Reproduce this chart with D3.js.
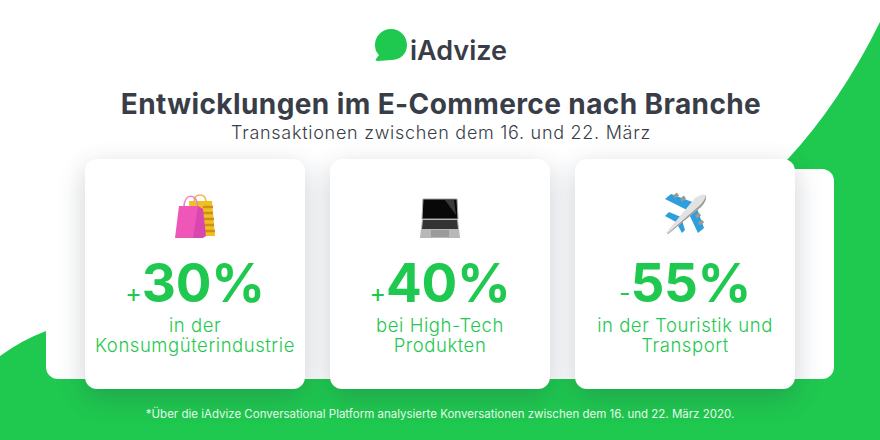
<!DOCTYPE html>
<html>
<head>
<meta charset="utf-8">
<script src="https://cdn.jsdelivr.net/npm/d3@7"></script>
<style>
  html, body { margin: 0; padding: 0; background: #fff; }
  svg { display: block; }
  text { font-family: Inter, Lato, sans-serif; }
</style>
</head>
<body>
<div id="chart"></div>
<script>
// values
const categories = ["Konsumgüter", "High-Tech", "Touristik"];
const signs = ["+", "+", "-"];
const values = [30, 40, 55];
const labelLines = [
    ["in der", "Konsumgüterindustrie"],
    ["bei High-Tech", "Produkten"],
    ["in der Touristik und", "Transport"]
];
const title = "Entwicklungen im E-Commerce nach Branche";
const subtitle = "Transaktionen zwischen dem 16. und 22. März";
const footnote = "*Über die iAdvize Conversational Platform analysierte Konversationen zwischen dem 16. und 22. März 2020.";

const width = 880, height = 440;
const green = "#1fc84f", dark = "#383d47";

const svg = d3.select("#chart")
    .append("svg")
    .attr("width", width)
    .attr("height", height);

const defs = svg.append("defs");
const blur = defs.append("filter")
    .attr("id", "cardShadow")
    .attr("x", "-30%").attr("y", "-30%")
    .attr("width", "160%").attr("height", "160%");
blur.append("feGaussianBlur").attr("stdDeviation", 14);

// green background
svg.append("path")
    .attr("d", "M0,356 Q22,340 46,331 L300,300 L787,160 Q840,103 880,22 L880,440 L0,440 Z")
    .attr("fill", green);

// back panel
svg.append("rect")
    .attr("x", 46).attr("y", 169)
    .attr("width", 788).attr("height", 210)
    .attr("rx", 12)
    .attr("fill", "#fff");

// cards
const x = d3.scaleBand()
    .domain(categories)
    .range([85, 795])
    .paddingInner(25 / 245);

// shadows first so they never fall on a neighbouring card
svg.selectAll("rect.shadow")
    .data(categories)
    .join("rect")
    .attr("class", "shadow")
    .attr("x", d => x(d))
    .attr("y", 168)
    .attr("width", x.bandwidth())
    .attr("height", 230)
    .attr("rx", 12)
    .attr("fill", "#1a2a40")
    .attr("opacity", 0.22)
    .attr("filter", "url(#cardShadow)");

const cards = svg.selectAll("g.card")
    .data(categories)
    .join("g")
    .attr("class", "card")
    .attr("transform", d => `translate(${x(d)},159)`);

cards.append("rect")
    .attr("width", x.bandwidth())
    .attr("height", 230)
    .attr("rx", 12)
    .attr("fill", "#fff");

// big numbers, sign is smaller
const cx = x.bandwidth() / 2;
const big = cards.append("text")
    .attr("x", cx)
    .attr("y", 143)
    .attr("text-anchor", "middle")
    .attr("fill", green)
    .attr("font-weight", 700);
big.append("tspan")
    .attr("font-size", 25)
    .attr("font-weight", 400)
    .text((d, i) => signs[i]);
big.append("tspan")
    .attr("font-size", 53)
    .attr("letter-spacing", -0.3)
    .text((d, i) => values[i] + "%");

// labels below the numbers
cards.each(function (d, i) {
    d3.select(this).selectAll("text.label")
        .data(labelLines[i])
        .join("text")
        .attr("class", "label")
        .attr("x", cx)
        .attr("y", (l, j) => 173 + j * 20)
        .attr("text-anchor", "middle")
        .attr("font-size", 18.5)
        .attr("font-weight", 300)
        .attr("letter-spacing", 0.55)
        .attr("fill", green)
        .text(l => l);
});

// icons
const icons = [drawBags, drawLaptop, drawPlane];
const iconY = [60, 60, 55];
cards.append("g")
    .attr("transform", (d, i) => `translate(${cx},${iconY[i]})`)
    .each(function (d, i) { icons[i](d3.select(this)); });

function drawBags(g) {
    // yellow bag behind
    g.append("path").attr("d", "M-6,-18 L17,-18 L20,17 L-4,17 Z").attr("fill", "#eec022");
    g.append("path").attr("d", "M8,-12 L18,-12 M8,-6 L18,-6 M8,0 L19,0 M8,6 L19,6 M8,12 L20,12")
        .attr("stroke", "#cf8f1d").attr("stroke-width", 2.4);
    g.append("path").attr("d", "M-1,-18 C0,-26 10,-26 11,-18").attr("fill", "none")
        .attr("stroke", "#efb54e").attr("stroke-width", 1.6);
    // pink bag in front
    g.append("path").attr("d", "M-16,-13 L3,-13 L8,19 L-20,19 Z").attr("fill", "#ee56b8");
    g.append("path").attr("d", "M3,-13 L8,-10 L11,17 L8,19 L-2,19 Z").attr("fill", "#d946b0");
    g.append("path").attr("d", "M-11,-13 C-10,-26 1,-26 3,-13").attr("fill", "none")
        .attr("stroke", "#f07fc8").attr("stroke-width", 1.6);
}

function drawLaptop(g) {
    g.append("path").attr("d", "M-17,-20 L17,-20 L18,0 L-18,0 Z").attr("fill", "#080808").attr("stroke", "#a5a5a5").attr("stroke-width", 1);
    g.append("path").attr("d", "M5,-19 L14,-19 L16,-4 Z").attr("fill", "#3a3a3a");
    g.append("path").attr("d", "M-18,0 L18,0 L20,19 L-20,19 Z").attr("fill", "#b8b8b8");
    g.append("path").attr("d", "M-17,1 L17,1 L18,10 L-18,10 Z").attr("fill", "#333");
    g.append("path").attr("d", "M-9,11 L9,11 L9,18 L-9,18 Z").attr("fill", "#9b9b9b");
}

function drawPlane(g) {
    // wings
    g.append("path").attr("d", "M2,-4 L-20,-15 L-14,-20 L10,-11 Z").attr("fill", "#2c9fdc");
    g.append("path").attr("d", "M2,-4 L13,19 L19,14 L10,-11 Z").attr("fill", "#2c9fdc");
    // tail
    g.append("path").attr("d", "M-9,8 L-20,2 L-16,-2 L-4,3 Z").attr("fill", "#2c9fdc");
    g.append("path").attr("d", "M-9,8 L-3,19 L0,16 L-4,3 Z").attr("fill", "#2c9fdc");
    // engines
    g.append("path").attr("d", "M-11,-17 L-7,-20 M-4,-14 L0,-17 M11,3 L15,0 M14,10 L18,7")
        .attr("stroke", "#9a9a9a").attr("stroke-width", 3.5);
    // fuselage
    g.append("path").attr("d", "M-19,19 L10,-16 Q17,-21 21,-19 Q22,-13 16,-7 L-17,20 Z").attr("fill", "#e2e2e2");
    g.append("path").attr("d", "M-18,20 L13,-7 Q20,-13 21,-19 Q22,-13 16,-7 L-17,20 Z").attr("fill", "#9a9a9a");
}

// logo
const logo = svg.append("g").attr("transform", "translate(391,45)");
logo.append("path")
    .attr("d", "M0,-16 C9,-16 16,-9 16,0 C16,9 9,15 0,15 L-13,16 C-15,16 -16,15 -15,14 L-12,10 C-15,7 -16,4 -16,0 C-16,-9 -9,-16 0,-16 Z")
    .attr("fill", green);
svg.append("text")
    .attr("x", 410).attr("y", 60)
    .attr("font-size", 27)
    .attr("font-weight", 600)
    .attr("fill", dark)
    .text("iAdvize");

// heading
svg.append("text")
    .attr("x", 441).attr("y", 114)
    .attr("text-anchor", "middle")
    .attr("font-size", 28)
    .attr("font-weight", 700)
    .attr("letter-spacing", 0.4)
    .attr("fill", dark)
    .text(title);

svg.append("text")
    .attr("x", 441).attr("y", 139)
    .attr("text-anchor", "middle")
    .attr("font-size", 18)
    .attr("font-weight", 300)
    .attr("letter-spacing", 0.72)
    .attr("fill", dark)
    .text(subtitle);

svg.append("text")
    .attr("x", 440).attr("y", 418)
    .attr("text-anchor", "middle")
    .attr("font-size", 11.5)
    .attr("fill", "#e4f8ea")
    .text(footnote);
</script>
</body>
</html>
